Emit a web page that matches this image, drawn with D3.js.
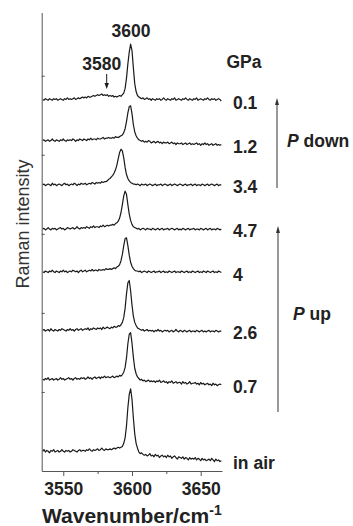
<!DOCTYPE html>
<html>
<head>
<meta charset="utf-8">
<script src="https://cdn.jsdelivr.net/npm/d3@7"></script>
<style>
  body { margin: 0; background: #fff; }
  svg { display: block; font-family: "Liberation Sans", Arial, Helvetica, sans-serif; }
</style>
</head>
<body>
<script>
// pressure labels, bottom to top
const pressures = ["in air", "0.7", "2.6", "4", "4.7", "3.4", "1.2", "0.1"];
// vertical stacking offset of each spectrum (intensity units)
const offsets = [25, 116, 178, 252, 306, 362, 418, 470];

// sampled every 1 cm-1 from 3535 to 3665, relative to offset
const sInAir = [
  0, 2, -1, 1, 0, -2, 1, 0, 2, -1,
  0, 1, -1, 0, 2, 0, -1, 1, 0, 1,
  -1, 0, 2, 1, 0, -1, 1, 2, 0, 1,
  1, 0, 2, 1, 3, 1, 0, 2, 1, 2,
  3, 1, 2, 4, 2, 1, 3, 2, 2, 3,
  2, 3, 4, 3, 4, 5, 4, 5, 6, 10,
  17, 32, 55, 72, 79, 66, 42, 22, 10, 4,
  -1, -3, -2, -4, -5, -4, -6, -5, -3, -6,
  -5, -7, -4, -6, -5, -8, -6, -5, -7, -6,
  -8, -5, -7, -6, -9, -7, -6, -8, -10, -7,
  -8, -9, -7, -10, -8, -9, -11, -8, -10, -9,
  -10, -8, -11, -9, -10, -12, -9, -11, -10, -12,
  -11, -10, -12, -9, -11, -13, -10, -12, -11, -13,
  -12
];
const s07 = [
  0, -1, 1, 0, 2, -1, 0, 1, -1, 0,
  1, -1, 0, 2, 0, 1, -1, 0, 1, 2,
  0, 1, -1, 1, 2, 0, 1, 0, 2, 1,
  2, 0, 1, 3, 1, 2, 0, 2, 3, 1,
  2, 3, 1, 3, 2, 4, 2, 3, 3, 2,
  3, 4, 2, 3, 4, 3, 5, 4, 6, 9,
  15, 27, 45, 57, 59, 46, 28, 14, 7, 3,
  1, -1, 0, -2, -1, -3, -2, -1, -3, -2,
  -3, -2, -4, -2, -3, -1, -4, -3, -2, -4,
  -3, -5, -3, -4, -2, -5, -4, -3, -5, -4,
  -4, -6, -3, -5, -4, -6, -5, -3, -6, -5,
  -5, -4, -6, -5, -7, -4, -6, -5, -7, -6,
  -5, -7, -6, -8, -5, -7, -6, -8, -7, -6,
  -7
];
const s26 = [
  0, 1, -1, 0, 1, -1, 2, 0, -1, 1,
  0, -1, 1, 0, 2, 1, 0, -1, 1, 0,
  2, 0, 1, -1, 1, 2, 0, 1, 2, 0,
  1, 2, 1, 3, 0, 2, 1, 3, 2, 1,
  3, 2, 3, 1, 4, 2, 3, 4, 3, 2,
  4, 3, 5, 4, 4, 6, 5, 7, 10, 16,
  28, 46, 60, 63, 50, 32, 18, 10, 6, 3,
  2, 1, 0, 1, -1, 0, 1, -1, 0, -1,
  0, -2, 0, -1, 1, -1, 0, -2, -1, 0,
  -1, 0, -2, -1, 0, -2, -1, 1, -1, -2,
  0, -1, -2, 0, -1, -2, -1, 0, -2, -1,
  -1, -2, 0, -1, -2, -1, 0, -2, -1, -2,
  -1, 0, -2, -1, -1, -2, 0, -1, -2, -1,
  -1
];
const s40 = [
  0, -1, 1, 0, -1, 1, 0, 2, 0, -1,
  1, 0, -1, 1, 0, 2, 0, 1, -1, 0,
  1, 0, 2, 1, 0, 1, -1, 1, 2, 0,
  1, 2, 0, 1, 2, 1, 3, 1, 2, 2,
  1, 3, 2, 2, 3, 2, 4, 3, 3, 4,
  3, 4, 5, 4, 6, 7, 9, 14, 22, 33,
  42, 43, 33, 21, 12, 7, 4, 2, 1, 1,
  0, 1, -1, 0, 1, 0, -1, 1, 0, -1,
  0, 1, -1, 0, 0, 1, -1, 0, 1, -1,
  0, -1, 1, 0, -1, 0, 1, -1, 0, 0,
  -1, 1, 0, -1, 0, 1, -1, 0, -1, 1,
  0, -1, 0, 1, -1, 0, -1, 1, 0, -1,
  1, 0, -1, 0, 1, -1, 0, -1, 1, 0,
  -1
];
const s47 = [
  0, 1, -1, 0, 2, 0, -1, 1, 0, 1,
  -1, 0, 1, 2, 0, 1, -1, 0, 2, 1,
  0, 1, 2, 0, 1, 3, 1, 0, 2, 1,
  2, 1, 3, 2, 1, 3, 2, 4, 2, 3,
  3, 2, 4, 3, 5, 3, 4, 5, 4, 5,
  5, 6, 5, 7, 8, 10, 14, 21, 31, 42,
  48, 44, 31, 19, 11, 6, 3, 2, 1, 0,
  1, -1, 0, 1, 0, -1, 1, 0, 0, -1,
  1, 0, -1, 0, 1, -1, 0, 1, -1, 0,
  0, 1, -1, 0, 1, 0, -1, 0, 1, -1,
  0, -1, 1, 0, -1, 0, 1, -1, 0, 0,
  1, -1, 0, 0, -1, 1, 0, -1, 0, 1,
  -1, 0, 1, -1, 0, 0, -1, 1, 0, -1,
  0
];
const s34 = [
  0, 1, -1, 0, 1, 0, -1, 2, 0, 1,
  -1, 0, 1, 0, -1, 1, 2, 0, 1, -1,
  0, 1, 0, 2, 1, -1, 1, 0, 2, 1,
  1, 2, 0, 1, 2, 1, 3, 2, 1, 3,
  2, 3, 2, 4, 3, 4, 4, 5, 7, 8,
  10, 12, 15, 19, 25, 33, 41, 45, 43, 34,
  22, 13, 8, 5, 3, 2, 1, 1, 0, 1,
  0, -1, 1, 0, 0, 1, -1, 0, 1, 0,
  -1, 0, 1, -1, 0, 0, 1, -1, 0, 1,
  0, -1, 0, 1, -1, 0, 1, 0, -1, 0,
  1, 0, -1, 0, 1, -1, 0, 0, 1, -1,
  0, 1, -1, 0, 0, -1, 1, 0, -1, 0,
  1, -1, 0, 1, 0, -1, 0, 1, -1, 0,
  0
];
const s12 = [
  0, 1, -1, 0, 1, -1, 0, 2, 0, -1,
  1, 0, -1, 1, 0, 2, 0, -1, 1, 0,
  1, 0, 2, 1, -1, 1, 0, 2, 1, 0,
  2, 1, 0, 2, 1, 3, 1, 2, 2, 1,
  3, 2, 2, 3, 4, 2, 3, 3, 4, 3,
  3, 4, 3, 5, 4, 4, 5, 6, 7, 10,
  15, 24, 35, 43, 44, 34, 20, 11, 6, 3,
  1, 0, -1, 0, -2, -1, -2, 0, -1, -3,
  -2, -1, -3, -2, -1, -3, -2, -4, -2, -3,
  -3, -2, -4, -3, -2, -4, -3, -5, -3, -4,
  -4, -3, -5, -4, -3, -5, -4, -3, -5, -4,
  -5, -4, -3, -5, -4, -6, -4, -5, -3, -5,
  -4, -6, -5, -4, -6, -5, -4, -6, -5, -6,
  -5
];
const s01 = [
  0, -1, 1, 0, -1, 1, 0, -1, 1, 0,
  1, -1, 0, 1, 0, -1, 1, 0, 2, 0,
  1, 0, 1, 2, 0, 1, 2, 1, 2, 3,
  2, 3, 2, 4, 3, 3, 4, 5, 4, 5,
  6, 5, 6, 7, 5, 6, 5, 6, 4, 5,
  4, 5, 3, 4, 3, 4, 5, 4, 6, 8,
  14, 27, 45, 60, 70, 62, 40, 20, 10, 5,
  3, 2, 1, 2, 0, 1, 2, 0, 1, -1,
  1, 0, -1, 1, 0, 1, -1, 0, 2, 0,
  -1, 1, 0, -1, 1, 0, 2, -1, 0, 1,
  0, -1, 1, 0, 2, 0, -1, 1, 0, -1,
  1, 0, 2, -1, 0, 1, 0, -1, 1, 0,
  2, 0, -1, 1, 0, 1, -1, 0, 1, 0,
  -2
];
const spectra = [sInAir, s07, s26, s40, s47, s34, s12, s01];

const wavenumbers = d3.range(3535, 3666);
const majorTicks = [3550, 3600, 3650];
const minorTicks = [3575, 3625];
const yTicks = [100, 200, 300, 400, 500];

const width = 353, height = 526;
const svg = d3.select("body").append("svg")
  .attr("width", width)
  .attr("height", height);

const x = d3.scaleLinear().domain([3534.3, 3665.5]).range([41.7, 222]);
const y = d3.scaleLinear().domain([0, 580]).range([471, 12.5]);

const ink = "#1a1a1a";
const axisColor = "#555";

// spectra
const line = d3.line()
  .x((d, i) => x(wavenumbers[i]))
  .y(d => d);

spectra.forEach((s, k) => {
  const pts = s.map(v => y(offsets[k] + v));
  svg.append("path")
    .attr("d", line(pts))
    .attr("fill", "none")
    .attr("stroke", ink)
    .attr("stroke-width", 1.2)
    .attr("stroke-linejoin", "round");
});

// bottom axis
const gx = svg.append("g")
  .attr("transform", `translate(0,${y(0)})`)
  .call(d3.axisBottom(x).tickValues(majorTicks).tickSize(5).tickSizeOuter(0).tickPadding(7).tickFormat(d3.format("d")));
gx.append("g")
  .call(d3.axisBottom(x).tickValues(minorTicks).tickSize(3).tickFormat(""))
  .select(".domain").remove();
gx.selectAll("path, line").attr("stroke", axisColor);
gx.selectAll("text")
  .attr("fill", "#222")
  .style("font-size", "17.5px")
  .style("font-weight", "bold");

// left axis, ticks pointing inward
const gy = svg.append("g")
  .attr("transform", `translate(${x.range()[0]},0)`)
  .call(d3.axisRight(y).tickValues(yTicks).tickSize(3).tickSizeOuter(0).tickFormat(""));
gy.selectAll("path, line").attr("stroke", axisColor);

// axis titles
svg.append("text")
  .attr("transform", "translate(29,224) rotate(-90)")
  .attr("text-anchor", "middle")
  .attr("fill", "#333")
  .style("font-size", "18px")
  .text("Raman intensity");

const xt = svg.append("text")
  .attr("x", 42)
  .attr("y", 523)
  .attr("fill", "#222")
  .style("font-size", "21px")
  .style("font-weight", "bold");
xt.append("tspan").text("Wavenumber/cm");
xt.append("tspan")
  .attr("dy", -8)
  .style("font-size", "14px")
  .text("-1");

// peak annotations
const boldText = (tx, ty, str, anchor) => svg.append("text")
  .attr("x", tx).attr("y", ty)
  .attr("text-anchor", anchor || "start")
  .attr("fill", "#222")
  .style("font-size", "17.5px")
  .style("font-weight", "bold")
  .text(str);

boldText(x(3599.3), 37, "3600", "middle");
boldText(x(3578), 70, "3580", "middle");
boldText(244, 68, "GPa", "middle");

// small arrow at 3580 shoulder
const ax = x(3581.6);
svg.append("line")
  .attr("x1", ax).attr("x2", ax)
  .attr("y1", 74).attr("y2", 84)
  .attr("stroke", ink).attr("stroke-width", 1);
svg.append("path")
  .attr("d", `M${ax - 2.2},83 L${ax + 2.2},83 L${ax},89 Z`)
  .attr("fill", ink);

// pressure labels at right end of each spectrum
spectra.forEach((s, k) => {
  const yEnd = y(offsets[k] + s[s.length - 1]);
  boldText(233, yEnd + 8, pressures[k], "start");
});

// pressure direction arrows
function upArrow(ax, yTop, yBottom) {
  svg.append("line")
    .attr("x1", ax).attr("x2", ax)
    .attr("y1", yTop + 5).attr("y2", yBottom)
    .attr("stroke", "#333").attr("stroke-width", 1);
  svg.append("path")
    .attr("d", `M${ax - 2},${yTop + 7} L${ax + 2},${yTop + 7} L${ax},${yTop} Z`)
    .attr("fill", "#333");
}
upArrow(277, 98, 188);
upArrow(278, 226, 412);

const pd = svg.append("text")
  .attr("x", 287).attr("y", 147)
  .attr("fill", "#222")
  .style("font-size", "17.5px")
  .style("font-weight", "bold");
pd.append("tspan").style("font-style", "italic").text("P");
pd.append("tspan").text(" down");

const pu = svg.append("text")
  .attr("x", 293).attr("y", 320)
  .attr("fill", "#222")
  .style("font-size", "17.5px")
  .style("font-weight", "bold");
pu.append("tspan").style("font-style", "italic").text("P");
pu.append("tspan").text(" up");
</script>
</body>
</html>
